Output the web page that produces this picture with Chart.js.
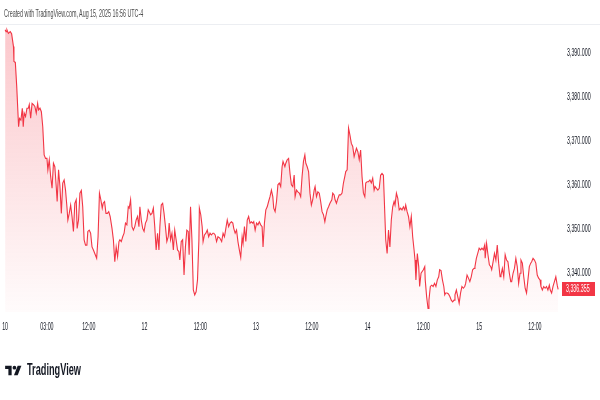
<!DOCTYPE html>
<html>
<head>
<meta charset="utf-8">
<script src="https://cdn.jsdelivr.net/npm/chart.js@4.4.1/dist/chart.umd.min.js"></script>
<style>
  html, body { margin: 0; padding: 0; background: #fff; }
  #wrap { position: relative; width: 600px; height: 400px; overflow: hidden; }
  #chart { position: absolute; left: 0; top: 0; }
  #credit { position: absolute; left: 4px; top: 8px; font: 10px 'Liberation Sans', sans-serif; color: #4a4a4a; white-space: nowrap; transform-origin: 0 0; }
  #sep { position: absolute; left: 0; top: 24px; width: 600px; height: 1px; background: #eceef2; }
  #logo { position: absolute; left: 5px; top: 362px; height: 16px; }
  #logo svg { position: absolute; left: 0; top: 2px; }
  #logo span { position: absolute; left: 22px; top: -1px; font: bold 16px 'Liberation Sans', sans-serif; color: #131722; white-space: nowrap; transform-origin: 0 0; }
</style>
</head>
<body>
<div id="wrap">
  <canvas id="chart" width="600" height="400"></canvas>
  <div id="credit">Created with TradingView.com, Aug 15, 2025 16:56 UTC-4</div>
  <div id="sep"></div>
  <div id="logo">
    <svg width="17" height="13" viewBox="0 0 36 28">
      <path d="M14 24H7V11H0V4h14z" fill="#131722"/>
      <circle cx="20" cy="8" r="4" fill="#131722"/>
      <path d="M27 24h-8l8-20h8z" fill="#131722"/>
    </svg>
    <span id="brand">TradingView</span>
  </div>
</div>
<script>
'use strict';

// hours since Aug 10 18:00 (session open)
const hours = [
  0,0.2,0.4,0.7,1.1,1.4,1.8,1.9,2.2,2.5,2.9,3.1,3.4,3.7,3.9,4.1,4.4,4.7,5.0,5.2,
  5.5,5.8,6.1,6.4,6.7,7.0,7.2,7.5,7.8,8.1,8.4,8.7,9.0,9.2,9.5,9.8,10.1,10.4,10.7,11.0,
  11.2,11.5,11.8,12.1,12.4,12.7,13.0,13.3,13.5,13.8,14.1,14.4,14.7,15.0,15.3,15.5,15.8,16.1,16.4,16.7,
  17.0,17.3,17.6,17.8,18.1,18.4,18.7,19.0,19.4,19.7,20.0,20.3,20.6,20.9,21.1,21.4,21.7,22.0,22.3,22.6,
  23.0,23.3,23.6,23.9,24.2,24.5,24.7,25.0,25.3,25.6,25.9,26.2,26.5,26.7,27.0,27.3,27.6,27.9,28.2,28.5,
  28.8,29.0,29.3,29.6,29.9,30.2,30.5,30.8,31.0,31.3,31.6,31.9,32.2,32.5,32.8,33.1,33.3,33.6,33.9,34.2,
  34.5,34.8,35.1,35.3,35.6,35.9,36.2,36.5,36.8,37.1,37.4,37.6,37.9,38.2,38.5,38.8,39.1,39.4,39.6,39.9,
  40.2,40.5,40.8,41.1,41.4,41.7,41.8,42.1,42.4,42.6,42.9,43.2,43.5,43.8,44.1,44.4,44.7,44.9,45.2,45.5,
  45.8,46.2,46.6,46.9,47.2,47.5,47.8,48.1,48.4,48.7,49.0,49.2,49.5,49.8,50.1,50.4,50.7,51.0,51.2,51.5,
  51.8,52.1,52.4,52.7,53.0,53.3,53.5,53.8,54.1,54.4,54.7,55.0,55.3,55.5,55.8,56.1,56.4,56.7,57.0,57.3,
  57.6,57.8,58.1,58.4,58.7,59.0,59.3,59.6,59.8,60.2,60.4,60.7,61.0,61.3,61.6,61.9,62.2,62.4,62.7,63.0,
  63.3,63.6,63.9,64.2,64.5,64.7,65.0,65.3,65.6,65.9,66.2,66.5,66.7,67.0,67.3,67.6,67.9,68.2,68.5,68.8,
  69.0,69.3,69.6,69.9,70.3,70.5,70.8,71.0,71.3,71.6,71.9,72.2,72.5,72.8,73.1,73.3,73.6,73.9,74.2,74.5,
  74.8,75.1,75.3,75.6,75.9,76.2,76.5,76.8,77.1,77.4,77.6,77.9,78.2,78.5,78.8,79.1,79.4,79.6,79.9,80.2,
  80.5,80.8,81.1,81.4,81.7,81.9,82.2,82.5,82.8,83.1,83.4,83.7,83.9,84.2,84.5,84.8,85.1,85.4,85.7,86.0,
  86.2,86.5,86.8,87.1,87.4,87.7,88.0,88.2,88.4,88.7,89.0,89.2,89.5,90.0,90.3,90.4,90.7,91.0,91.2,91.5,
  91.8,92.1,92.4,92.7,93.0,93.3,93.5,93.8,94.1,94.4,94.6,94.8,95.1,95.4,95.7,96.0,96.3,96.6,96.8,97.1,
  97.4,97.7,98.0,98.3,98.6,98.9,99.1,99.4,99.7,100.0,100.3,100.6,100.9,101.1,101.4,101.7,102.0,102.3,102.6,102.9,
  103.2,103.3,103.6,103.9,104.2,104.5,104.7,105.0,105.3,105.6,105.9,106.2,106.5,106.7,107.0,107.3,107.6,107.9,108.2,108.5,
  108.8,109.0,109.3,109.6,109.9,110.2,110.5,110.8,111.0,111.3,111.6,111.9,112.2,112.5,112.8,113.1,113.3,113.6,113.9,114.2,
  114.5,114.8,115.1,115.3,115.6,115.9,116.2,116.5,116.8,117.1,117.3,117.6,117.9,118.2,118.5,118.8,119.0
];

const prices = [
  3395.3,3394.9,3395.3,3394.5,3394.9,3394.4,3391.5,3388.1,3387.9,3382.4,3373.3,3375.2,3374.8,3377.5,3373.3,3376.4,3375.6,3377.5,3377.5,3378.3,
  3375.2,3378.6,3378.3,3377.9,3376.4,3378.6,3377.1,3377.5,3376.7,3373.3,3366.9,3366.1,3366.1,3363.5,3365.8,3362.0,3359.3,3365.0,3364.2,3359.7,
  3356.3,3363.5,3359.7,3353.6,3360.5,3361.2,3358.9,3355.1,3352.1,3353.6,3355.5,3352.9,3349.5,3355.9,3356.7,3350.2,3352.1,3358.2,3358.8,3355.1,
  3347.6,3346.4,3346.4,3349.5,3349.8,3349.1,3346.0,3345.3,3344.2,3343.4,3348.3,3358.2,3356.7,3354.8,3355.9,3356.3,3353.6,3353.6,3354.0,3352.9,
  3350.2,3347.6,3342.6,3346.0,3343.8,3347.2,3347.6,3347.2,3348.3,3349.1,3351.4,3351.0,3355.1,3354.8,3356.7,3350.6,3349.8,3350.6,3352.1,3352.9,
  3350.6,3355.1,3352.1,3350.2,3349.5,3351.4,3352.1,3354.4,3354.0,3353.3,3353.6,3354.8,3350.6,3345.3,3349.1,3345.3,3350.6,3355.5,3355.9,3353.6,
  3350.6,3347.2,3348.3,3351.4,3347.6,3349.1,3345.3,3349.8,3347.6,3345.3,3344.9,3343.0,3347.2,3347.6,3339.6,3346.0,3349.8,3349.5,3344.2,3355.1,
  3347.6,3336.2,3335.1,3335.8,3338.5,3347.6,3354.8,3353.3,3350.6,3347.2,3348.7,3349.1,3349.8,3348.3,3349.1,3348.7,3349.1,3349.1,3348.7,3347.2,
  3348.3,3348.0,3347.2,3349.1,3348.3,3350.2,3352.1,3350.6,3351.4,3351.7,3351.4,3350.2,3349.1,3349.8,3347.2,3345.3,3343.6,3348.3,3346.8,3350.6,
  3347.2,3352.1,3352.9,3351.4,3351.7,3351.4,3351.7,3349.8,3351.4,3351.0,3351.7,3351.0,3350.6,3346.0,3351.4,3354.4,3355.1,3356.3,3357.4,3358.9,
  3357.4,3354.8,3354.0,3356.3,3360.1,3360.5,3359.7,3364.2,3365.4,3364.2,3365.0,3365.8,3366.1,3362.7,3360.1,3359.7,3362.3,3357.4,3358.9,3358.5,
  3358.2,3357.4,3362.0,3365.4,3366.9,3365.0,3364.2,3363.1,3358.2,3355.5,3356.7,3358.9,3359.7,3357.4,3358.5,3358.2,3356.3,3354.0,3353.3,3351.7,
  3352.9,3354.4,3355.1,3355.9,3356.7,3358.2,3357.8,3356.7,3355.9,3357.0,3357.8,3357.8,3358.2,3360.5,3362.0,3363.1,3363.5,3373.0,3371.4,3369.5,
  3368.8,3366.5,3367.3,3368.4,3367.6,3365.8,3368.0,3362.0,3358.2,3357.4,3360.5,3360.8,3360.8,3361.2,3360.5,3361.6,3358.9,3359.7,3359.3,3358.9,
  3359.3,3362.3,3362.7,3362.3,3353.6,3347.6,3344.5,3349.8,3346.0,3352.1,3355.1,3356.3,3355.5,3358.2,3357.0,3354.4,3354.8,3354.4,3355.1,3354.4,
  3355.5,3354.0,3352.9,3350.6,3352.9,3348.3,3345.3,3343.0,3338.5,3344.5,3341.5,3337.0,3340.0,3340.8,3341.5,3338.5,3334.7,3332.0,3333.9,3337.0,
  3337.3,3337.0,3337.7,3337.0,3338.5,3339.2,3340.8,3340.6,3338.5,3337.0,3335.1,3335.5,3335.5,3335.3,3334.7,3333.9,3333.5,3333.9,3335.1,3336.2,
  3334.7,3333.2,3335.5,3337.0,3336.6,3337.0,3337.7,3339.6,3338.9,3338.1,3339.2,3340.8,3341.1,3341.5,3343.4,3344.5,3345.7,3345.3,3345.7,3345.3,
  3346.4,3343.4,3346.8,3344.2,3341.9,3341.5,3340.8,3342.6,3344.5,3343.0,3346.4,3342.3,3339.2,3339.6,3341.1,3339.2,3344.2,3343.0,3342.6,3340.0,
  3338.1,3338.1,3340.0,3341.1,3343.4,3341.5,3337.7,3340.0,3343.0,3342.3,3339.2,3336.6,3335.5,3338.5,3341.5,3342.3,3342.6,3343.4,3343.0,3342.3,
  3339.6,3338.9,3338.5,3337.0,3336.2,3337.0,3336.6,3337.0,3336.2,3337.3,3336.2,3335.5,3337.0,3338.1,3339.2,3337.3,3336.355
];

const timeTicks = [0, 9, 18, 30, 42, 54, 66, 78, 90, 102, 114];
const timeLabels = ['10', '03:00', '12:00', '12', '12:00', '13', '12:00', '14', '12:00', '15', '12:00'];
const priceTicks = [3340, 3350, 3360, 3370, 3380, 3390];

const red = '#F23645';
const labelFont = "'Liberation Sans', Arial, sans-serif";
const squeeze = 0.53;   // the snapshot text is very narrow

const fmt = v => Number(v).toLocaleString('en-US', { minimumFractionDigits: 3, maximumFractionDigits: 3 });

// squash every canvas label horizontally round its anchor point
const narrowText = {
  id: 'narrowText',
  beforeDraw(chart) {
    const ctx = chart.ctx;
    if (ctx.plainFillText) return;
    ctx.plainFillText = ctx.fillText;
    ctx.fillText = function(t, x, y) {
      this.save();
      this.translate(x, y);
      this.scale(squeeze, 1);
      this.plainFillText(t, 0, 0);
      this.restore();
    };
  }
};

const lastLabel = {
  id: 'lastLabel',
  afterDraw(chart) {
    const ctx = chart.ctx;
    const y = Math.round(chart.scales.y.getPixelForValue(prices[prices.length - 1]));
    const x = chart.chartArea.right + 2;
    ctx.save();
    ctx.fillStyle = red;
    ctx.fillRect(x, y - 7, 33, 14);
    ctx.fillStyle = '#fff';
    ctx.font = '10px ' + labelFont;
    ctx.textBaseline = 'middle';
    ctx.fillText(fmt(prices[prices.length - 1]), x + 4, y + 0.5);
    ctx.restore();
  }
};

const ctx = document.getElementById('chart');

let chart = new Chart(ctx, {
  type: 'line',
  data: {
    datasets: [{
      data: hours.map((h, i) => ({ x: h, y: prices[i] })),
      borderColor: red,
      borderWidth: 1.1,
      pointRadius: 0,
      tension: 0,
      fill: 'start',
      backgroundColor: function(c) {
        const area = c.chart.chartArea;
        if (!area) return 'rgba(242,54,69,0.15)';
        const g = c.chart.ctx.createLinearGradient(0, area.top, 0, area.bottom);
        g.addColorStop(0, 'rgba(242,54,69,0.28)');
        g.addColorStop(1, 'rgba(242,54,69,0.02)');
        return g;
      }
    }]
  },
  options: {
    responsive: false,
    animation: false,
    layout: { padding: { top: 25, left: 0, right: 0, bottom: 60 } },
    plugins: { legend: { display: false }, tooltip: { enabled: false } },
    scales: {
      x: {
        type: 'linear',
        min: -1.1,
        max: 119.4,
        grid: { display: false, drawTicks: false },
        border: { display: false },
        afterBuildTicks: s => { s.ticks = timeTicks.map(v => ({ value: v })); },
        afterFit: s => { s.height = 28; s.paddingLeft = 0; s.paddingRight = 0; },
        ticks: {
          autoSkip: false,
          maxRotation: 0,
          padding: 9,
          color: '#131722',
          font: { family: labelFont, size: 10 },
          callback: (v, i) => timeLabels[i]
        }
      },
      y: {
        position: 'right',
        min: 3331.2,
        max: 3396.4,
        grid: { display: false, drawTicks: false },
        border: { display: false },
        afterBuildTicks: s => { s.ticks = priceTicks.map(v => ({ value: v })); },
        afterFit: s => { s.width = 40; s.paddingTop = 0; s.paddingBottom = 0; },
        ticks: {
          padding: 7,
          color: '#131722',
          font: { family: labelFont, size: 10 },
          callback: v => fmt(v)
        }
      }
    }
  },
  plugins: [narrowText, lastLabel]
});

// header and logo text are just as narrow in the snapshot
function fitWidth(id, w) {
  const el = document.getElementById(id);
  el.style.transform = 'scaleX(' + (w / el.offsetWidth) + ')';
}
fitWidth('credit', 139);
fitWidth('brand', 54);
</script>
</body>
</html>
